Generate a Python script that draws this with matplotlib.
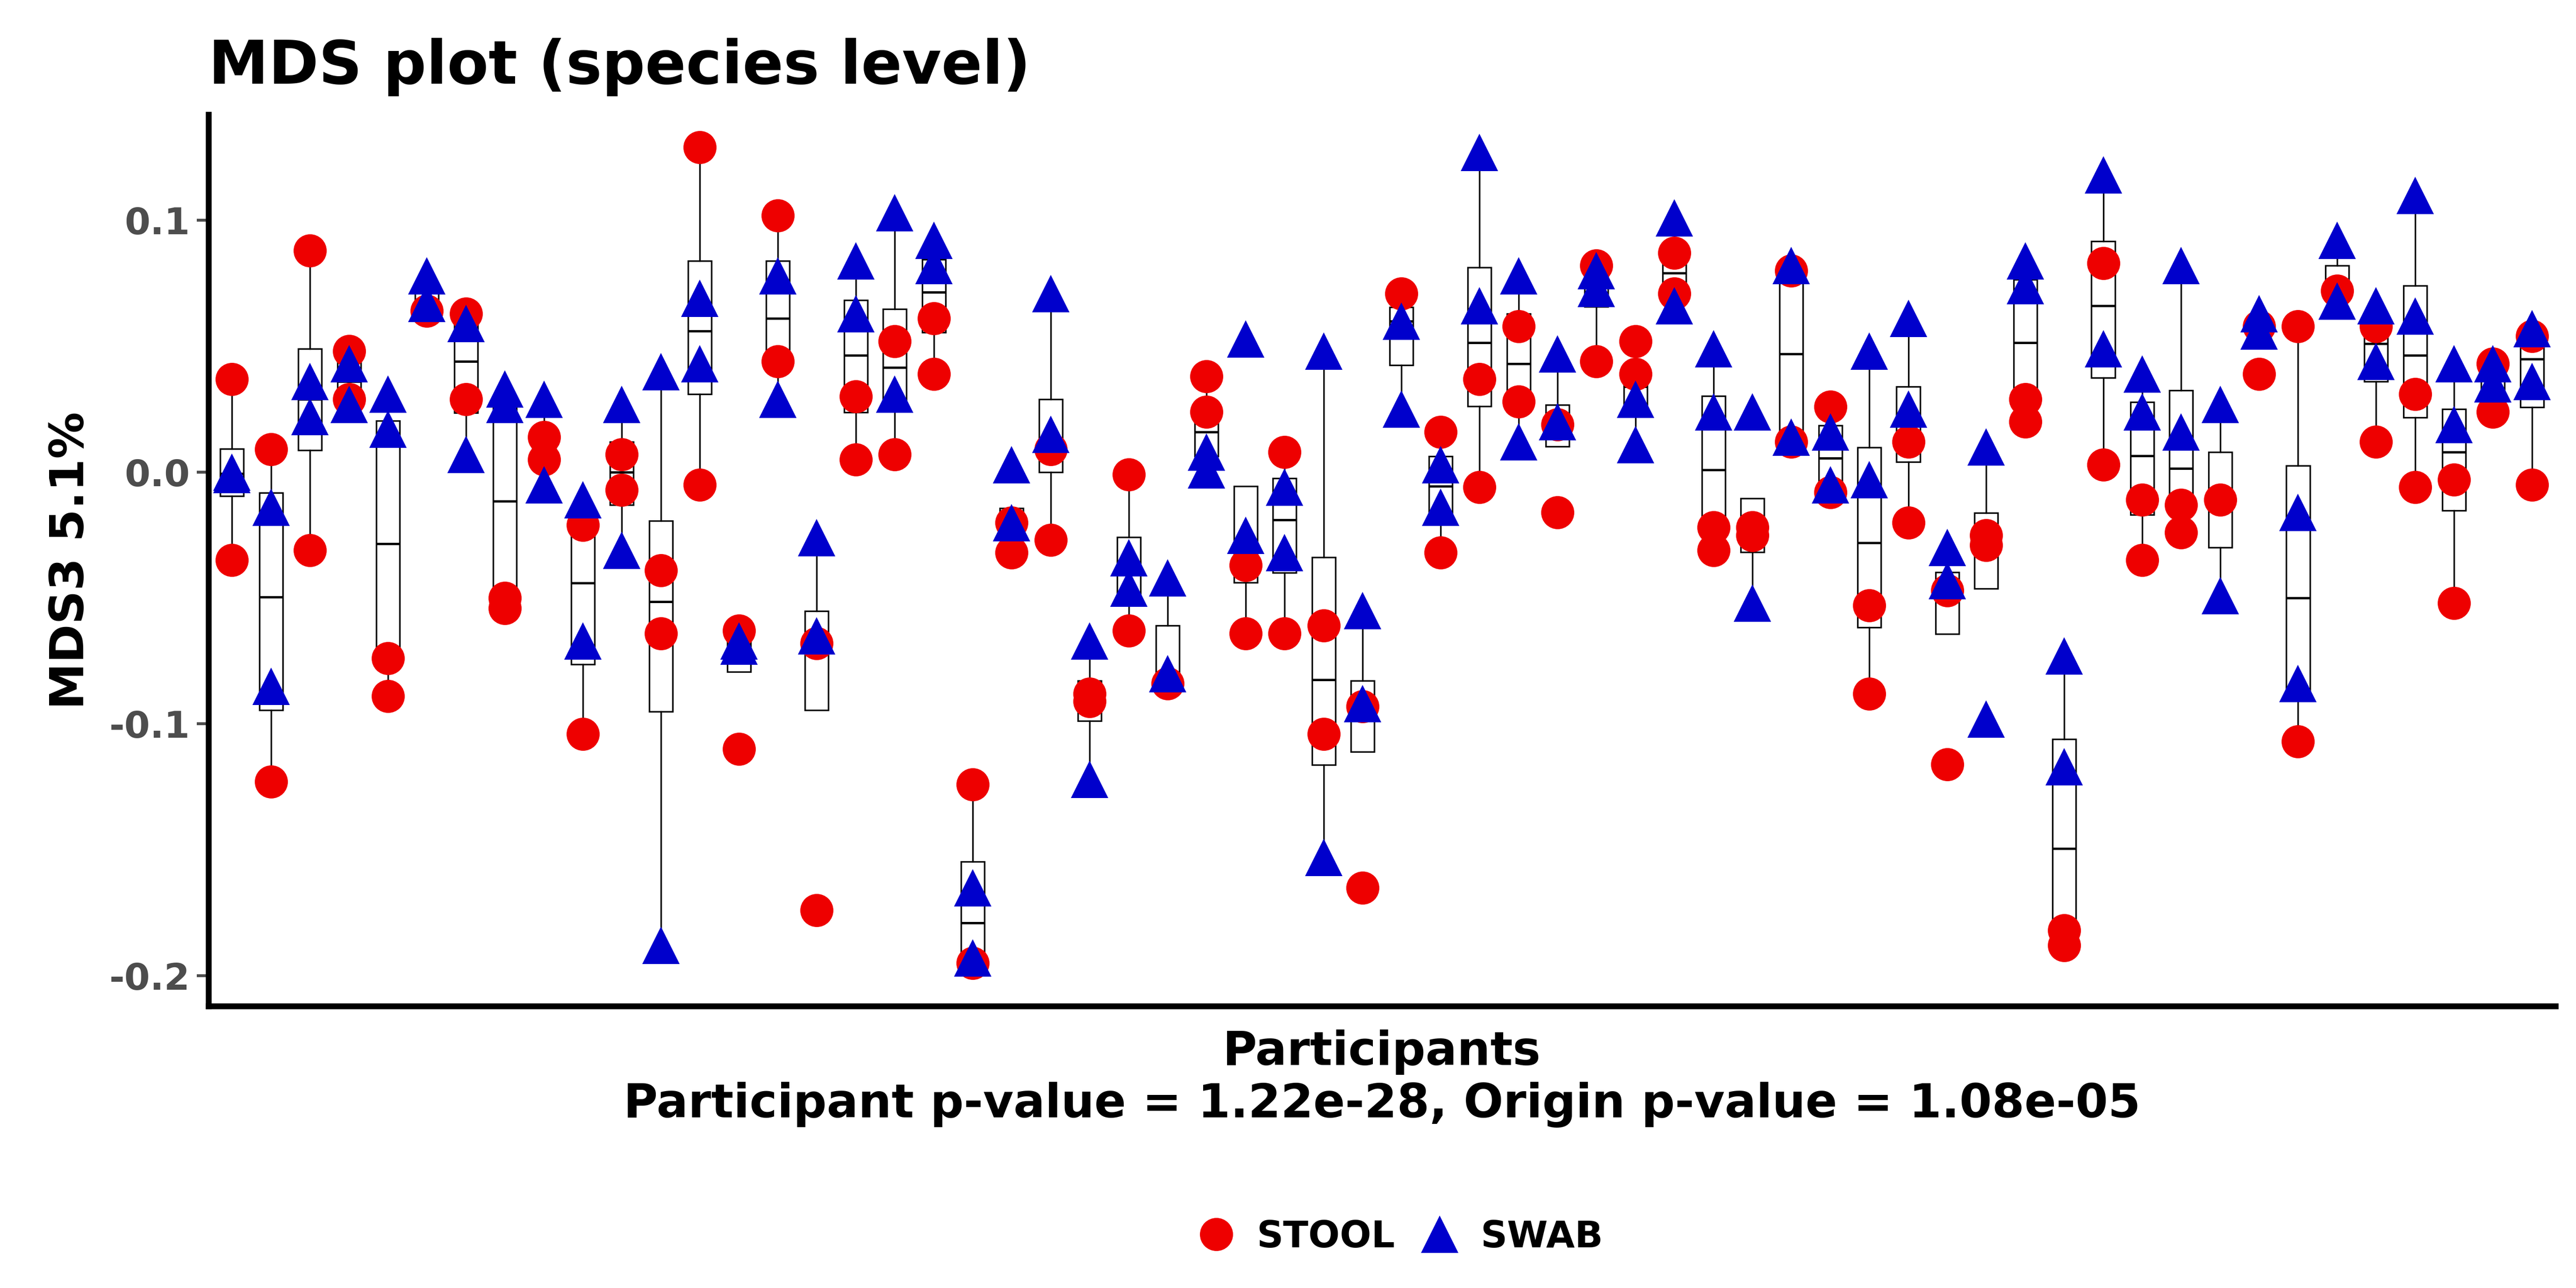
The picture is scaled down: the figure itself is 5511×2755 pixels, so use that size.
import numpy as np
import matplotlib.pyplot as plt
from matplotlib.lines import Line2D

# MDS3 values per participant
stool = [
    [0.037, -0.035], [0.009, -0.123], [0.088, -0.031], [0.048, 0.029], [-0.074, -0.089],
    [0.064], [0.063, 0.029], [-0.050, -0.054], [0.014, 0.005], [-0.021, -0.104],
    [0.007, -0.007], [-0.039, -0.064], [0.129, -0.005], [-0.063, -0.110], [0.102, 0.044],
    [-0.068, -0.174], [0.030, 0.005], [0.052, 0.007], [0.061, 0.039], [-0.124, -0.195],
    [-0.020, -0.032], [0.009, -0.027], [-0.088, -0.091], [-0.001, -0.063], [-0.084],
    [0.038, 0.024], [-0.037, -0.064], [0.008, -0.064], [-0.061, -0.104], [-0.093, -0.165],
    [0.071], [0.016, -0.032], [0.037, -0.006], [0.058, 0.028], [0.019, -0.016],
    [0.082, 0.044], [0.052, 0.039], [0.087, 0.071], [-0.022, -0.031], [-0.022, -0.025],
    [0.080, 0.012], [0.026, -0.008], [-0.053, -0.088], [0.012, -0.020], [-0.047, -0.116],
    [-0.025, -0.029], [0.029, 0.020], [-0.182, -0.188], [0.083, 0.003], [-0.011, -0.035],
    [-0.013, -0.024], [-0.011], [0.058, 0.039], [0.058, -0.107], [0.072],
    [0.058, 0.012], [0.031, -0.006], [-0.003, -0.052], [0.043, 0.024], [0.054, -0.005],
]
swab = [
    [0.000, -0.001], [-0.014, -0.085], [0.036, 0.022], [0.043, 0.027], [0.031, 0.017],
    [0.078, 0.067], [0.059, 0.007], [0.033, 0.027], [0.029, -0.005], [-0.011, -0.067],
    [0.027, -0.031], [0.040, -0.188], [0.069, 0.043], [-0.067, -0.069], [0.078, 0.029],
    [-0.026, -0.065], [0.084, 0.063], [0.103, 0.031], [0.092, 0.082], [-0.165, -0.193],
    [0.003, -0.020], [0.071, 0.015], [-0.067, -0.122], [-0.034, -0.046], [-0.042, -0.080],
    [0.008, 0.001], [0.053, -0.025], [-0.006, -0.032], [0.048, -0.153], [-0.055, -0.092],
    [0.060, 0.025], [0.003, -0.014], [0.127, 0.066], [0.078, 0.012], [0.047, 0.020],
    [0.080, 0.073], [0.029, 0.011], [0.101, 0.066], [0.049, 0.024], [0.024, -0.052],
    [0.082, 0.014], [0.016, -0.005], [0.048, -0.003], [0.061, 0.025], [-0.030, -0.043],
    [0.010, -0.098], [0.084, 0.074], [-0.073, -0.117], [0.118, 0.049], [0.039, 0.024],
    [0.082, 0.016], [0.027, -0.049], [0.063, 0.056], [-0.016, -0.084], [0.092, 0.068],
    [0.066, 0.044], [0.110, 0.062], [0.043, 0.019], [0.043, 0.035], [0.057, 0.036],
]

n = len(stool)
pos = np.arange(1, n + 1)

fig = plt.figure(figsize=(5511 / 300, 2755 / 300), dpi=300)
ax = fig.add_axes([0.081, 0.219, 0.911, 0.692])

data = [s + w for s, w in zip(stool, swab)]
ax.boxplot(data, positions=pos, widths=0.6, showfliers=False, showcaps=False,
           patch_artist=True,
           boxprops=dict(facecolor='white', edgecolor='black', linewidth=0.8),
           whiskerprops=dict(color='black', linewidth=0.8),
           medianprops=dict(color='black', linewidth=1.2), zorder=1)

for i in range(n):
    ax.plot([pos[i]] * len(stool[i]), stool[i], 'o', color='#ee0000', ms=17, mec='none', zorder=3)
    ax.plot([pos[i]] * len(swab[i]), swab[i], '^', color='#0000cc', ms=19, mec='none', zorder=3)

ax.set_xlim(0.4, n + 0.6)
ax.set_ylim(-0.212, 0.142)
ax.set_yticks([-0.2, -0.1, 0.0, 0.1])
ax.set_yticklabels(['-0.2', '-0.1', '0.0', '0.1'])
ax.set_xticks([])
for sp in ['top', 'right']:
    ax.spines[sp].set_visible(False)
for sp in ['left', 'bottom']:
    ax.spines[sp].set_linewidth(3)
ax.tick_params(axis='y', labelsize=19, width=1.5, length=6, colors='#4d4d4d')
for lab in ax.get_yticklabels():
    lab.set_fontweight('bold')

ax.set_ylabel('MDS3 5.1%', fontsize=24, fontweight='bold', labelpad=8)
ax.set_xlabel('Participants\nParticipant p-value = 1.22e-28, Origin p-value = 1.08e-05',
              fontsize=24, fontweight='bold', labelpad=12, linespacing=1.2)
fig.text(0.081, 0.935, 'MDS plot (species level)', fontsize=31, fontweight='bold')

handles = [Line2D([], [], marker='o', ls='none', color='#ee0000', ms=17, mec='none', label='STOOL'),
           Line2D([], [], marker='^', ls='none', color='#0000cc', ms=19, mec='none', label='SWAB')]
fig.legend(handles=handles, loc='lower center', bbox_to_anchor=(0.54, 0.0), ncol=2,
           frameon=False, handletextpad=0.1, columnspacing=0.2,
           prop=dict(size=19, weight='bold'))

fig.savefig('out.png', dpi=300)
